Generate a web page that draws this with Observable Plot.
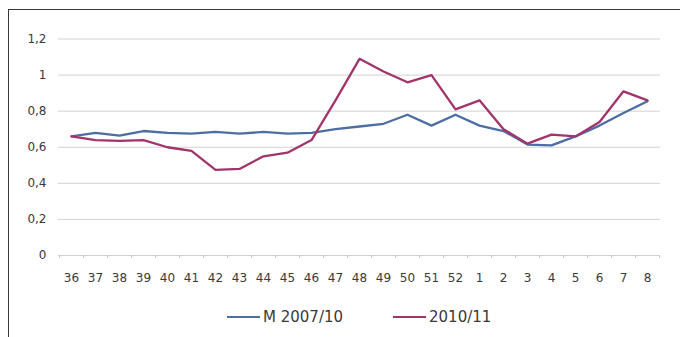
<!DOCTYPE html>
<html>
<head>
<meta charset="utf-8">
<script src="https://cdn.jsdelivr.net/npm/d3@7"></script>
<script src="https://cdn.jsdelivr.net/npm/@observablehq/plot@0.6"></script>
<style>
  html, body { margin: 0; padding: 0; background: #fff; }
  body { position: relative; width: 680px; height: 337px; overflow: hidden; font-family: "DejaVu Sans", sans-serif; }
  #frame { position: absolute; left: 8px; top: 9px; right: -4px; bottom: -4px;
           border-left: 1.5px solid #3a3a3a; border-top: 1.5px solid #3a3a3a; pointer-events: none; }
  #chart { position: absolute; left: 0; top: 0; }
  #legend { position: absolute; top: 307px; left: 0; width: 680px; height: 20px; color: #3a3a3a; font-size: 15px; }
  .item { position: absolute; top: 0; display: flex; align-items: center; height: 20px; }
  .swatch { display: inline-block; width: 33px; height: 2.5px; margin-right: 3px; }
</style>
</head>
<body>
<div id="chart"></div>
<div id="legend"></div>
<div id="frame"></div>
<script>
// Week numbers of the season (autumn to late winter)
const weeks = ["36","37","38","39","40","41","42","43","44","45","46","47","48","49","50","51","52",
               "1","2","3","4","5","6","7","8"];

// Mean of the seasons 2007/10
const mean0710 = [0.66, 0.68, 0.665, 0.69, 0.68, 0.675, 0.685, 0.675, 0.685, 0.675, 0.68, 0.70,
                  0.715, 0.73, 0.78, 0.72, 0.78, 0.72, 0.69, 0.615, 0.61, 0.66, 0.72, 0.79, 0.855];

// Season 2010/11
const season1011 = [0.66, 0.64, 0.635, 0.64, 0.60, 0.58, 0.475, 0.48, 0.55, 0.57, 0.64, 0.86,
                    1.09, 1.02, 0.96, 1.0, 0.81, 0.86, 0.70, 0.62, 0.67, 0.66, 0.74, 0.91, 0.86];

const seriesNames = ["M 2007/10", "2010/11"];
const seriesColors = ["#4d6da3", "#a2336b"];
const yTicks = [0, 0.2, 0.4, 0.6, 0.8, 1, 1.2];

const rows = [
  ...weeks.map((w, i) => ({week: w, value: mean0710[i], series: seriesNames[0]})),
  ...weeks.map((w, i) => ({week: w, value: season1011[i], series: seriesNames[1]}))
];

const W = 680, H = 300, ML = 58, MR = 20, MT = 38.5, MB = 45;
const step = (W - ML - MR) / weeks.length;

const chart = Plot.plot({
  width: W, height: H,
  marginLeft: ML, marginRight: MR, marginTop: MT, marginBottom: MB,
  style: {fontFamily: "DejaVu Sans, sans-serif", fontSize: "12px", color: "#3a3a3a", background: "transparent"},
  x: {type: "point", domain: weeks, padding: 0.5, label: null},
  y: {domain: [0, 1.2], label: null},
  color: {domain: seriesNames, range: seriesColors},
  marks: [
    Plot.gridY(yTicks, {stroke: "#d2d2d2", strokeOpacity: 1, strokeWidth: 1}),
    // category boundary ticks under the axis line
    Plot.ruleX(weeks, {x: d => d, y1: 0, y2: 0, dx: -step / 2, insetBottom: -3, stroke: "#c8c8c8"}),
    Plot.ruleX(weeks.slice(-1), {x: d => d, y1: 0, y2: 0, dx: step / 2, insetBottom: -3, stroke: "#c8c8c8"}),
    Plot.axisY(yTicks, {tickSize: 0, tickPadding: 12,
      tickFormat: d => String(+d.toFixed(1)).replace(".", ",")}),
    Plot.axisX({tickSize: 0, tickPadding: 18}),
    Plot.line(rows, {x: "week", y: "value", z: "series", stroke: "series",
      strokeWidth: 2.3, strokeLinejoin: "round", strokeLinecap: "round"})
  ]
});
document.getElementById("chart").appendChild(chart);

// Legend below the chart
const legend = document.getElementById("legend");
const legendLeft = [227, 393];
seriesNames.forEach((name, i) => {
  const item = document.createElement("div");
  item.className = "item";
  item.style.left = legendLeft[i] + "px";
  const sw = document.createElement("span");
  sw.className = "swatch";
  sw.style.background = seriesColors[i];
  const label = document.createElement("span");
  label.textContent = name;
  item.appendChild(sw);
  item.appendChild(label);
  legend.appendChild(item);
});
</script>
</body>
</html>
